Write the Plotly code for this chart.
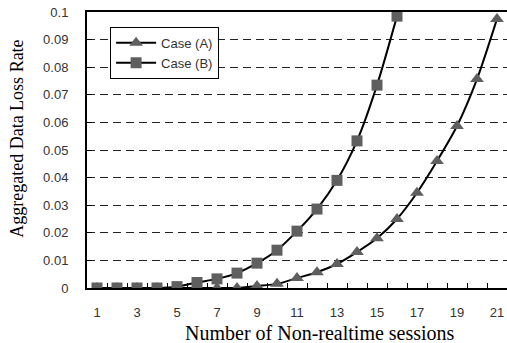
import plotly.graph_objects as go

sessions = list(range(1, 22))
case_a = [0, 0, 0, 0, 0, 0, 0, 0, 0.0007, 0.0015, 0.0036, 0.0057, 0.0087, 0.013, 0.018,
          0.025, 0.0345, 0.046, 0.0587, 0.0757, 0.0975]
sessions_b = list(range(1, 17))
case_b = [0, 0, 0, 0, 0.0005, 0.002, 0.0033, 0.0054, 0.009, 0.0137, 0.0206, 0.0286,
          0.039, 0.0533, 0.0735, 0.0985]
y_ticks = [0, 0.01, 0.02, 0.03, 0.04, 0.05, 0.06, 0.07, 0.08, 0.09, 0.1]
y_tick_text = ["0", "0.01", "0.02", "0.03", "0.04", "0.05", "0.06", "0.07", "0.08", "0.09", "0.1"]
x_ticks = [1, 3, 5, 7, 9, 11, 13, 15, 17, 19, 21]

marker_color = "#5f5f5f"
tick_font = dict(family="Liberation Sans, Arial, sans-serif", size=13, color="#333333")
ytitle_font = dict(family="Liberation Serif, Times New Roman, serif", size=18, color="#000000")
xtitle_font = dict(family="Liberation Serif, Times New Roman, serif", size=20, color="#000000")

fig = go.Figure()
fig.add_trace(go.Scatter(
    x=sessions, y=case_a, name="Case (A)", mode="lines+markers",
    line=dict(color="black", width=2, shape="spline", smoothing=0.8),
    marker=dict(symbol="triangle-up", size=12, color=marker_color),
))
fig.add_trace(go.Scatter(
    x=sessions_b, y=case_b, name="Case (B)", mode="lines+markers",
    line=dict(color="black", width=2, shape="spline", smoothing=0.8),
    marker=dict(symbol="square", size=11, color=marker_color),
))
# invisible trace to carry labelled x axis
fig.add_trace(go.Scatter(x=[0.5, 21.5], y=[0, 0], xaxis="x2", mode="markers",
                         marker=dict(opacity=0), showlegend=False, hoverinfo="skip"))

fig.update_layout(
    width=507, height=343,
    margin=dict(l=87, r=0, t=12, b=55),
    paper_bgcolor="white", plot_bgcolor="white",
    showlegend=True,
    legend=dict(x=0.055, y=0.946, xanchor="left", yanchor="top",
                bgcolor="white", bordercolor="black", borderwidth=1,
                font=dict(family="Liberation Sans, Arial, sans-serif", size=13, color="#333333"),
                tracegroupgap=2, itemwidth=40, entrywidth=80, entrywidthmode="pixels"),
    xaxis=dict(range=[0.5, 21.5], tickmode="linear", tick0=0.5, dtick=1,
               ticks="inside", ticklen=5, tickcolor="black", tickwidth=1,
               showticklabels=False, showgrid=False, zeroline=False,
               showline=True, linecolor="black", linewidth=2, mirror=True),
    xaxis2=dict(range=[0.5, 21.5], overlaying="x", side="bottom", anchor="y",
                tickmode="array", tickvals=x_ticks, ticks="", showgrid=False,
                zeroline=False, showline=False, tickfont=tick_font,
                ticklabelstandoff=15),
    yaxis=dict(range=[0, 0.1], tickmode="array", tickvals=y_ticks, ticktext=y_tick_text,
               ticks="inside", ticklen=5, tickcolor="black",
               showgrid=True, gridcolor="#222222", gridwidth=1, griddash="8px,5px",
               zeroline=False, showline=True, linecolor="black", linewidth=2,
               tickfont=tick_font, ticklabelstandoff=14),
    annotations=[
        dict(text="Number of Non-realtime sessions", xref="paper", yref="paper",
             x=0.555, y=-0.163, xanchor="center", yanchor="middle",
             showarrow=False, font=xtitle_font),
        dict(text="Aggregated Data Loss Rate", xref="paper", yref="paper",
             x=-0.167, y=0.54, xanchor="center", yanchor="middle", textangle=-90,
             showarrow=False, font=ytitle_font),
    ],
)

fig.write_html("out.html")
